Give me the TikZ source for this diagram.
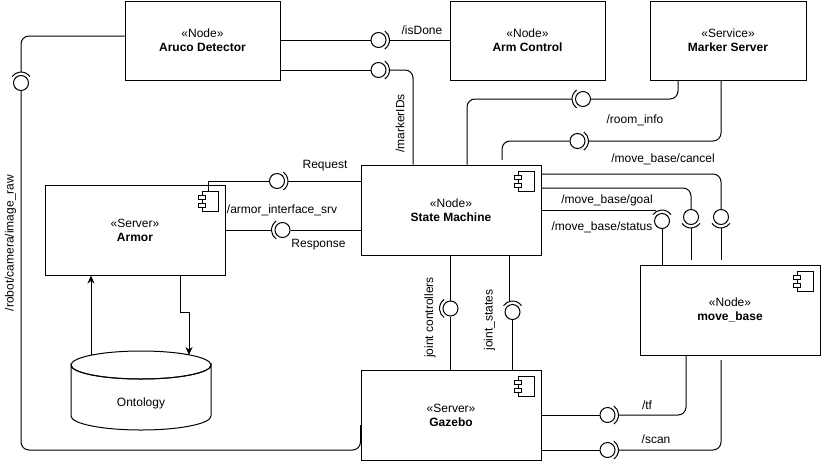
\documentclass[tikz,border=0pt]{standalone}
\usepackage{fontspec}
\setmainfont{Liberation Sans}
\usetikzlibrary{calc,arrows.meta}
\newcommand{\sockarc}[2]{\draw ($(#1.center)+({#2-55}:11)$) arc[start angle={#2-55}, end angle={#2+55}, radius=11];}
\newcommand{\compicon}[1]{%
  \draw ($(#1.north east)+(-7,-7)$) rectangle ($(#1.north east)+(-23,-27)$);
  \draw[fill=white] ($(#1.north east)+(-20,-11)$) rectangle ($(#1.north east)+(-27,-15)$);
  \draw[fill=white] ($(#1.north east)+(-20,-19)$) rectangle ($(#1.north east)+(-27,-23)$);}
\begin{document}
\begin{tikzpicture}[x=1pt,y=1pt,line width=1pt,font=\fontsize{12}{14}\selectfont,
  box/.style={draw, inner sep=0pt, align=center},
  ball/.style={draw, circle, minimum size=15pt, inner sep=0pt},
  lbl/.style={inner sep=0pt},
  rc/.style={rounded corners=8pt},
  arr/.style={-{Stealth[length=8pt,width=7pt,inset=2.5pt]}}]
\useasboundingbox (0,0) rectangle (821,-461);

% boxes
\node[box, minimum width=155pt, minimum height=79pt] (aruco) at (202.5,-40.5) {«Node»\\\textbf{Aruco Detector}};
\node[box, minimum width=155pt, minimum height=79pt] (armctrl) at (527.5,-40.5) {«Node»\\\textbf{Arm Control}};
\node[box, minimum width=156pt, minimum height=79pt] (marker) at (728,-40.5) {«Service»\\\textbf{Marker Server}};
\node[box, minimum width=180pt, minimum height=90pt] (sm) at (451,-210) {«Node»\\\textbf{State Machine}};
\node[box, minimum width=180pt, minimum height=90pt] (armor) at (135,-230) {«Server»\\\textbf{Armor}};
\node[box, minimum width=180pt, minimum height=90pt] (movebase) at (730,-310) {«Node»\\\textbf{move\_base}};
\node[box, minimum width=180pt, minimum height=90pt] (gazebo) at (451,-415) {«Server»\\\textbf{Gazebo}};
\compicon{sm}
\compicon{armor}
\compicon{movebase}
\compicon{gazebo}

% ontology cylinder
\draw (71,-365) arc[start angle=180,end angle=360,x radius=70,y radius=14] -- (211,-416)
      arc[start angle=0,end angle=-180,x radius=70,y radius=14] -- cycle;
\draw (141,-365) ellipse[x radius=70,y radius=14];
\node[lbl] (onto) at (141,-403) {Ontology};
\coordinate (ontoL) at (91,-355);
\coordinate (ontoR) at (189,-355);

% balls
\node[ball] (bcam) at (21,-83) {};
\node[ball] (bdone) at (378.5,-40) {};
\node[ball] (bmk) at (378.5,-70) {};
\node[ball] (broom) at (583,-99) {};
\node[ball] (bcan) at (577.5,-141) {};
\node[ball] (bc2) at (721,-217) {};
\node[ball] (bgoal) at (691,-217) {};
\node[ball] (bstat) at (662,-221) {};
\node[ball] (breq) at (277,-181) {};
\node[ball] (bres) at (282.5,-230) {};
\node[ball] (bjc) at (450.5,-308.5) {};
\node[ball] (bjs) at (512.5,-312) {};
\node[ball] (btf) at (607.5,-415) {};
\node[ball] (bscan) at (607.5,-450) {};

% sockets
\sockarc{bcam}{90}
\sockarc{bdone}{0}
\sockarc{bmk}{0}
\sockarc{broom}{180}
\sockarc{bcan}{0}
\sockarc{bc2}{270}
\sockarc{bgoal}{270}
\sockarc{bstat}{90}
\sockarc{breq}{0}
\sockarc{bres}{180}
\sockarc{bjc}{180}
\sockarc{bjs}{90}
\sockarc{btf}{0}
\sockarc{bscan}{0}

% free ends
\coordinate (canEnd) at (502,-160);
\coordinate (c2End) at (721,-260);
\coordinate (goalEnd) at (691,-260);
\coordinate (scanEnd) at (721,-360);

% camera
\draw[rc] (aruco.west |- 0,-36) -| ($(bcam.center)+(0,11)$);
\draw[rc] (bcam.south) |- (gazebo.west |- 0,-450) -- (gazebo.west |- 0,-425);
\node[lbl, rotate=90] (lcam) at (10.5,-243) {/robot/camera/image\_raw};

% isDone
\draw (aruco.east |- bdone) -- (bdone.west);
\draw ($(bdone.center)+(11,0)$) -- (armctrl.west |- bdone);
\node[lbl] (ldone) at (422,-30) {/isDone};

% markerIDs
\draw (aruco.east |- bmk) -- (bmk.west);
\draw[rc] ($(bmk.center)+(11,0)$) -| (sm.north -| 413,0);
\node[lbl, rotate=90] (lmk) at (400,-123.5) {/markerIDs};

% room_info
\draw[rc] (marker.south -| 678,0) |- (broom.east);
\draw[rc] ($(broom.center)+(-11,0)$) -| (sm.north -| 467,0);
\node[lbl] (lroom) at (635,-120) {/room\_info};

% marker -> sm (second)
\draw[rc] (marker.south -| 721,0) |- ($(bcan.center)+(11,0)$);
\draw[rc] (bcan.west) -| (canEnd);

% move_base cancel / goal / status
\draw[rc] (sm.east |- 0,-174) -| (bc2.north);
\draw ($(bc2.center)+(0,-11)$) -- (c2End);
\draw[rc] (sm.east |- 0,-188) -| (bgoal.north);
\draw ($(bgoal.center)+(0,-11)$) -- (goalEnd);
\draw (sm.east |- 0,-210) -- (656,-210);
\draw (bstat.south) -- (movebase.north -| bstat);
\node[lbl] (lcan) at (663,-159.5) {/move\_base/cancel};
\node[lbl] (lgoal) at (607,-200) {/move\_base/goal};
\node[lbl] (lstat) at (602,-227) {/move\_base/status};

% armor request / response
\draw ($(armor.north east)+(-17,-7)$) |- (breq.west);
\draw ($(breq.center)+(11,0)$) -- (sm.west |- breq);
\draw (armor.east |- bres) -- ($(bres.center)+(-11,0)$);
\draw (bres.east) -- (sm.west |- bres);
\node[lbl] (lreq) at (325,-166) {Request};
\node[lbl] (lsrv) at (282,-210) {/armor\_interface\_srv};
\node[lbl] (lres) at (318.5,-245) {Response};

% armor <-> ontology
\draw[arr] (ontoL) -- (armor.south -| ontoL);
\draw[arr] (armor.south -| 180,0) -- (180,-312) -- (189,-312) -- (ontoR);

% joints
\draw (sm.south -| bjc) -- (bjc.north);
\draw (bjc.south) -- (gazebo.north -| bjc);
\node[lbl, rotate=90] (ljc) at (430,-317.5) {joint controllers};
\draw (sm.south -| 509,0) -- (509,-301.5);
\draw (bjs.south) -- (gazebo.north -| bjs);
\node[lbl, rotate=90] (ljs) at (489.5,-320) {joint\_states};

% tf / scan
\draw (gazebo.east |- btf) -- (btf.west);
\draw[rc] ($(btf.center)+(11,0)$) -| (movebase.south -| 686,0);
\node[lbl] (ltf) at (647,-405) {/tf};
\draw (gazebo.east |- bscan) -- (bscan.west);
\draw[rc] ($(bscan.center)+(11,0)$) -| (scanEnd);
\node[lbl] (lscan) at (656,-439) {/scan};
\end{tikzpicture}
\end{document}
